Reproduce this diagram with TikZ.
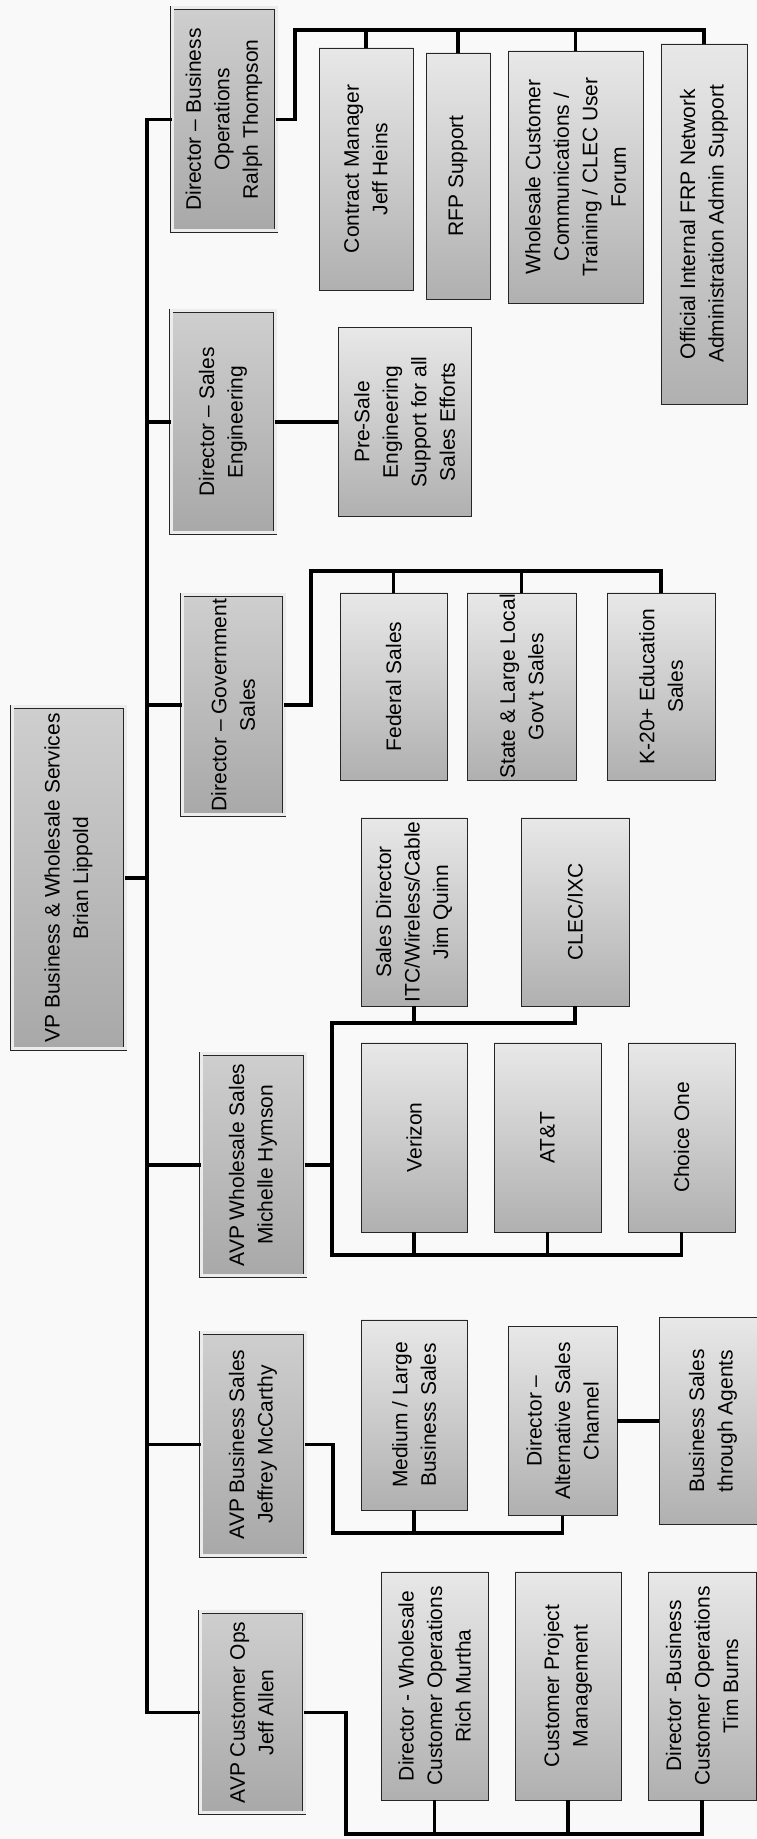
\documentclass[tikz,border=0pt]{standalone}
\usepackage{fontspec}
\setmainfont{Liberation Sans}

\begin{document}
\begin{tikzpicture}[x=1pt, y=1pt,
  unit/.style={draw=black!85, line width=0.9pt, rotate=90, inner sep=0pt,
    align=center, font=\fontsize{21}{28.5}\selectfont,
    top color=gray!18, bottom color=gray!62},
  head/.style={unit, double=gray!15, double distance=3pt,
    top color=gray!38, bottom color=gray!68},
  link/.style={line width=3.8pt}
]
  % Page
  \useasboundingbox (0,0) rectangle (757,1839);
  \fill[gray!5] (0,0) rectangle (757,1839);
  \clip (0,0) rectangle (757,1839);

  % Top of the chart
  \node[head, minimum width=342, minimum height=113] (vp) at (68.5,961)
    {VP Business \& Wholesale Services\\Brian Lippold};

  % Directors and AVPs
  \node[head, minimum width=223, minimum height=104] (dbo) at (224,1719.5)
    {Director -- Business\\Operations\\Ralph Thompson};
  \node[head, minimum width=222, minimum height=104] (dse) at (223,1417)
    {Director -- Sales\\Engineering};
  \node[head, minimum width=220, minimum height=102] (dgs) at (233,1134)
    {Director -- Government\\Sales};
  \node[head, minimum width=222, minimum height=104] (avpw) at (253,674)
    {AVP Wholesale Sales\\Michelle Hymson};
  \node[head, minimum width=223, minimum height=104] (avpb) at (253,394.5)
    {AVP Business Sales\\Jeffrey McCarthy};
  \node[head, minimum width=201, minimum height=104] (ops) at (252,126.5)
    {AVP Customer Ops\\Jeff Allen};

  % Business operations
  \node[unit, minimum width=242, minimum height=94] (cm) at (366,1670)
    {Contract Manager\\Jeff Heins};
  \node[unit, minimum width=246, minimum height=64] (rfp) at (458,1663)
    {RFP Support};
  \node[unit, minimum width=252, minimum height=135] (wcc) at (575.5,1662)
    {Wholesale Customer\\Communications /\\Training / CLEC User\\Forum};
  \node[unit, minimum width=360, minimum height=86] (frp) at (704,1615)
    {Official Internal FRP Network\\Administration Admin Support};

  % Sales engineering
  \node[unit, minimum width=189, minimum height=133] (pre) at (404.5,1417)
    {Pre-Sale\\Engineering\\Support for all\\Sales Efforts};

  % Government sales
  \node[unit, minimum width=187, minimum height=107] (fed) at (393.5,1152.5)
    {Federal Sales};
  \node[unit, minimum width=187, minimum height=109] (state) at (521.5,1152.5)
    {State \& Large Local\\Gov’t Sales};
  \node[unit, minimum width=187, minimum height=108] (k20) at (661,1152.5)
    {K-20+ Education\\Sales};

  % Wholesale sales
  \node[unit, minimum width=188, minimum height=106] (itc) at (414,927)
    {Sales Director\\ITC/Wireless/Cable\\Jim Quinn};
  \node[unit, minimum width=188, minimum height=108] (clec) at (575,927)
    {CLEC/IXC};
  \node[unit, minimum width=189, minimum height=106] (verizon) at (414,701.5)
    {Verizon};
  \node[unit, minimum width=189, minimum height=107] (att) at (547.5,701.5)
    {AT\&T};
  \node[unit, minimum width=189, minimum height=107] (choice) at (681.5,701.5)
    {Choice One};

  % Business sales
  \node[unit, minimum width=190, minimum height=106] (mlb) at (414,424)
    {Medium / Large\\Business Sales};
  \node[unit, minimum width=189, minimum height=109] (dasc) at (562.5,418)
    {Director --\\Alternative Sales\\Channel};
  \node[unit, minimum width=207, minimum height=108] (agents) at (713,418)
    {Business Sales\\through Agents};

  % Customer ops
  \node[unit, minimum width=228, minimum height=107] (rich) at (434.5,153)
    {Director - Wholesale\\Customer Operations\\Rich Murtha};
  \node[unit, minimum width=228, minimum height=106] (cpm) at (568,153)
    {Customer Project\\Management};
  \node[unit, minimum width=228, minimum height=108] (tim) at (702,153)
    {Director -Business\\Customer Operations\\Tim Burns};

  % Bus points
  \coordinate (trunk) at (147,961);
  \coordinate (bizopsbus) at (295,1809);
  \coordinate (govbus) at (311,1268);
  \coordinate (wsup) at (332,816);
  \coordinate (wsdn) at (332,584);
  \coordinate (bizbus) at (333,306);
  \coordinate (opsbus) at (346,5);

  % Main trunk
  \draw[link] (dbo.north) -| (trunk) |- (ops.north);
  \draw[link] (vp.south) -- (trunk);
  \draw[link] (dse.north) -- (dse.north -| trunk);
  \draw[link] (dgs.north) -- (dgs.north -| trunk);
  \draw[link] (avpw.north) -- (avpw.north -| trunk);
  \draw[link] (avpb.north) -- (avpb.north -| trunk);

  % Business operations links
  \draw[link] (dbo.south) -| (bizopsbus) -| (frp.east);
  \draw[link] (cm.east) -- (cm.east |- bizopsbus);
  \draw[link] (rfp.east) -- (rfp.east |- bizopsbus);
  \draw[link] (wcc.east) -- (wcc.east |- bizopsbus);

  % Sales engineering link
  \draw[link] (dse.south) -- (pre.north);

  % Government links
  \draw[link] (dgs.south) -| (govbus) -| (k20.east);
  \draw[link] (fed.east) -- (fed.east |- govbus);
  \draw[link] (state.east) -- (state.east |- govbus);

  % Wholesale links
  \draw[link] (avpw.south) -- (avpw.south -| wsup);
  \draw[link] (clec.west) |- (wsup) -- (wsdn) -| (choice.west);
  \draw[link] (itc.west) -- (itc.west |- wsup);
  \draw[link] (verizon.west) -- (verizon.west |- wsdn);
  \draw[link] (att.west) -- (att.west |- wsdn);

  % Business sales links
  \draw[link] (avpb.south) -| (bizbus) -| (dasc.west);
  \draw[link] (mlb.west) -- (mlb.west |- bizbus);
  \draw[link] (dasc.south) -- (agents.north);

  % Customer ops links
  \draw[link] (ops.south) -| (opsbus) -| (tim.west);
  \draw[link] (rich.west) -- (rich.west |- opsbus);
  \draw[link] (cpm.west) -- (cpm.west |- opsbus);
\end{tikzpicture}
\end{document}
